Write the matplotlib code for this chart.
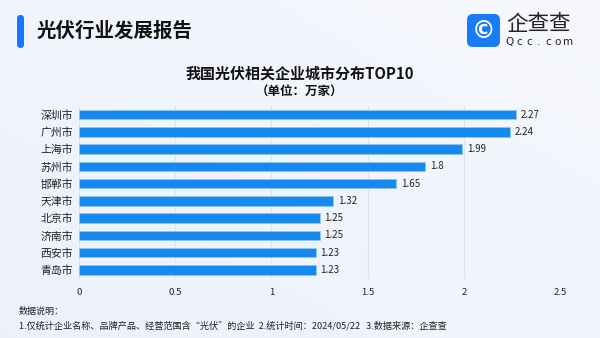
import numpy as np
import matplotlib
matplotlib.use("Agg")
import matplotlib.pyplot as plt
from matplotlib.patches import FancyBboxPatch

plt.rcParams["font.family"] = ["Noto Sans CJK SC", "DejaVu Sans"]

cities = ["深圳市", "广州市", "上海市", "苏州市", "邯郸市", "天津市", "北京市", "济南市", "西安市", "青岛市"]
values = [2.27, 2.24, 1.99, 1.8, 1.65, 1.32, 1.25, 1.25, 1.23, 1.23]
value_labels = ["2.27", "2.24", "1.99", "1.8", "1.65", "1.32", "1.25", "1.25", "1.23", "1.23"]
xticks = [0, 0.5, 1, 1.5, 2, 2.5]
xtick_labels = ["0", "0.5", "1", "1.5", "2", "2.5"]

W, H = 600, 338
fig = plt.figure(figsize=(6, 3.38), dpi=100)

# background gradient
bg = fig.add_axes([0, 0, 1, 1], zorder=-10)
gx = np.linspace(0, 1, 200)
gy = np.linspace(0, 1, 120)
GX, GY = np.meshgrid(gx, gy)
t = np.clip(0.5 * GX + 0.5 * (1 - GY), 0, 1)
c0 = np.array([0.925, 0.945, 0.985])
c1 = np.array([0.965, 0.972, 0.992])
img = c0[None, None, :] * (1 - t[..., None]) + c1[None, None, :] * t[..., None]
bg.imshow(img, extent=[0, W, H, 0], aspect="auto")
bg.set_xlim(0, W)
bg.set_ylim(H, 0)
bg.axis("off")

# header
bg.add_patch(FancyBboxPatch((17, 15), 7, 33, boxstyle="round,pad=0,rounding_size=3.5",
                            fc="#1677ff", ec="none"))
bg.text(37, 31, "光伏行业发展报告", fontsize=14, fontweight="bold", color="#111111",
        va="center", ha="left")

# logo
bg.add_patch(FancyBboxPatch((467, 14), 33, 33, boxstyle="round,pad=0,rounding_size=6",
                            fc="#1a7cf5", ec="none"))
bg.text(483.5, 30.5, "©", fontsize=17, color="white", ha="center", va="center",
        fontweight="bold", family="DejaVu Sans")
bg.text(506, 24, "企查查", fontsize=15.5, color="#222222", ha="left", va="center")
for i, ch in enumerate("Qcc.com"):
    bg.text(510 + i * 9.6, 42, ch, fontsize=7.5, color="#222222", ha="center", va="center",
            family="DejaVu Sans")

# titles
bg.text(300, 74, "我国光伏相关企业城市分布TOP10", fontsize=10.8, fontweight="bold",
        color="#111111", ha="center", va="center")
bg.text(300, 92, "（单位：万家）", fontsize=9, fontweight="bold", color="#111111",
        ha="center", va="center")

# footnote
bg.text(19, 311, "数据说明：", fontsize=6.5, color="#222222", ha="left", va="center")
bg.text(19, 326, "1.仅统计企业名称、品牌产品、经营范围含“光伏”的企业  2.统计时间：2024/05/22   3.数据来源：企查查",
        fontsize=6.6, color="#222222", ha="left", va="center")

# chart
ax = fig.add_axes([79 / W, 1 - 278.5 / H, (560 - 79) / W, (278.5 - 106) / H])
ax.patch.set_alpha(0)
y = np.arange(len(cities))
ax.barh(y, values, height=0.55, color="#1589ee", edgecolor="#8fc6f5", linewidth=0.6, zorder=3)
for yi, v, lab in zip(y, values, value_labels):
    ax.text(v + 0.025, yi, lab, fontsize=7, color="#222222", va="center", ha="left")
ax.set_xlim(0, 2.5)
ax.set_ylim(len(cities) - 0.5, -0.5)
ax.set_yticks(y)
ax.set_yticklabels(cities, fontsize=7.8, color="#222222")
ax.set_xticks(xticks)
ax.set_xticklabels(xtick_labels, fontsize=6.8, color="#222222")
ax.tick_params(length=0, pad=4)
ax.tick_params(axis="x", pad=7)
ax.grid(axis="x", color="#dfe3ea", linewidth=0.8, zorder=0)
for s in ax.spines.values():
    s.set_visible(False)

fig.savefig("out.png", dpi=100)
